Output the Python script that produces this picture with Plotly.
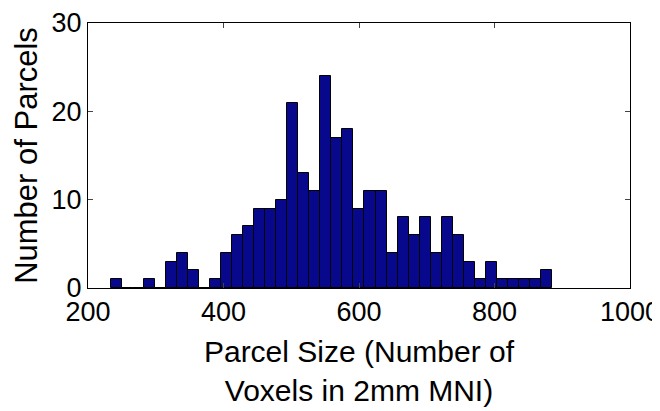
import plotly.graph_objects as go

# histogram of parcel sizes (40 bins)
bin_start = 233.4
bin_width = 16.29
counts = [1, 0, 0, 1, 0, 3, 4, 2, 0, 1,
          4, 6, 7, 9, 9, 10, 21, 13, 11, 24,
          17, 18, 9, 11, 11, 4, 8, 6, 8, 4,
          8, 6, 3, 1, 3, 1, 1, 1, 1, 2]
centers = [bin_start + bin_width * (i + 0.5) for i in range(len(counts))]

x_ticks = [200, 400, 600, 800, 1000]
y_ticks = [0, 10, 20, 30]

FAMILY = "Liberation Sans, Arial, sans-serif"

fig = go.Figure(go.Bar(
    x=centers, y=counts, width=bin_width,
    marker=dict(color="#08088c", line=dict(color="black", width=1)),
))

# page body has an 8px margin, so the figure is a bit smaller than the window
fig.update_layout(
    width=652, height=403,
    margin=dict(l=80, r=30, t=15, b=123),
    plot_bgcolor="white", paper_bgcolor="white",
    font=dict(family=FAMILY, size=27, color="black"),
    showlegend=False, bargap=0,
)
fig.update_xaxes(
    range=[200, 1000], tickvals=x_ticks, ticks="inside", ticklen=5,
    showline=True, linecolor="black", linewidth=1, mirror="ticks",
    showgrid=False, zeroline=False, automargin=False,
    ticklabeloverflow="allow",
    title=dict(text="Parcel Size (Number of<br>Voxels in 2mm MNI)", standoff=14,
               font=dict(size=30)),
)
fig.update_yaxes(
    range=[0, 30], tickvals=y_ticks, ticks="inside", ticklen=5,
    showline=True, linecolor="black", linewidth=1, mirror="ticks",
    showgrid=False, zeroline=False, automargin=False,
    ticklabeloverflow="allow",
    title=dict(text="Number of Parcels", standoff=4, font=dict(size=31)),
)

fig.write_html("out.html")
